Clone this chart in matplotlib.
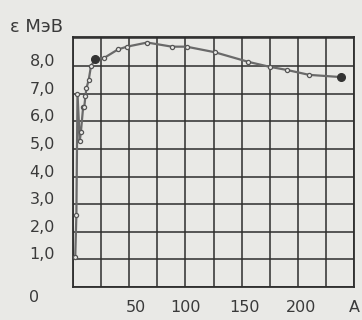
import matplotlib
matplotlib.use("Agg")
import matplotlib.pyplot as plt
from matplotlib.transforms import ScaledTranslation
from matplotlib.ticker import MultipleLocator

# Mass number A and binding energy per nucleon (MeV)
mass_number = [2, 3, 4, 6, 7, 9, 10, 11, 12, 14, 16, 20, 28, 40, 48, 66, 88, 101, 126, 156, 175, 190, 210, 238]
binding_energy = [1.1, 2.6, 7.0, 5.3, 5.6, 6.5, 6.5, 6.9, 7.2, 7.5, 8.0, 8.25, 8.3, 8.6, 8.7, 8.85, 8.7, 8.7, 8.5, 8.15, 7.97, 7.86, 7.68, 7.6]
marked_A = [20, 238]
marked_E = [8.25, 7.6]

x_ticks = [50, 100, 150, 200, 250]
x_labels = ["50", "100", "150", "200", "A"]
y_ticks = [0, 1, 2, 3, 4, 5, 6, 7, 8]
y_labels = ["0", "1,0", "2,0", "3,0", "4,0", "5,0", "6,0", "7,0", "8,0"]
title = "ε МэВ"

bg = "#e9e9e6"
ink = "#2e2e2e"
txt = "#3a3a3a"

fig = plt.figure(figsize=(3.62, 3.2), dpi=100, facecolor=bg)
ax = fig.add_axes([73/362, 1-287/320, (354-73)/362, (287-37)/320])
ax.set_facecolor(bg)
ax.set_xlim(0, 250)
ax.set_ylim(0, 9.05)

ax.xaxis.set_minor_locator(MultipleLocator(25))
ax.yaxis.set_minor_locator(MultipleLocator(1))
ax.set_xticks(x_ticks)
ax.set_xticklabels(x_labels)
ax.set_yticks(y_ticks)
ax.set_yticklabels(y_labels)
ax.grid(True, which="both", color=ink, linewidth=1.1)
ax.set_axisbelow(True)
ax.tick_params(which="both", length=0)
ax.tick_params(axis="x", pad=9, labelsize=11.5, labelcolor=txt)
ax.tick_params(axis="y", pad=13, labelsize=11.5, labelcolor=txt)
for s in ax.spines.values():
    s.set_color(ink)
    s.set_linewidth(1.3)

# offsets of tick labels as printed
for lab in ax.get_yticklabels():
    if lab.get_text() == "0":
        lab.set_transform(lab.get_transform() + ScaledTranslation(-16/100, -9/100, fig.dpi_scale_trans))
    else:
        lab.set_transform(lab.get_transform() + ScaledTranslation(0, 6/100, fig.dpi_scale_trans))
for lab in ax.get_xticklabels():
    if lab.get_text() == "50":
        lab.set_transform(lab.get_transform() + ScaledTranslation(7/100, 0, fig.dpi_scale_trans))
    elif lab.get_text() in ("150", "200"):
        lab.set_transform(lab.get_transform() + ScaledTranslation(3/100, 0, fig.dpi_scale_trans))

ax.plot(mass_number, binding_energy, color="#6a6a6a", linewidth=1.6,
        marker="o", markersize=3, markerfacecolor=bg, markeredgecolor="#555555",
        markeredgewidth=0.9, clip_on=False, zorder=3)
ax.plot(marked_A, marked_E, linestyle="none", marker="o", markersize=5.5,
        color="#333333", clip_on=False, zorder=4)

fig.text(10/362, 1-32/320, title, fontsize=13, color=txt, ha="left", va="baseline")

fig.savefig("out.png", dpi=100, facecolor=bg)
